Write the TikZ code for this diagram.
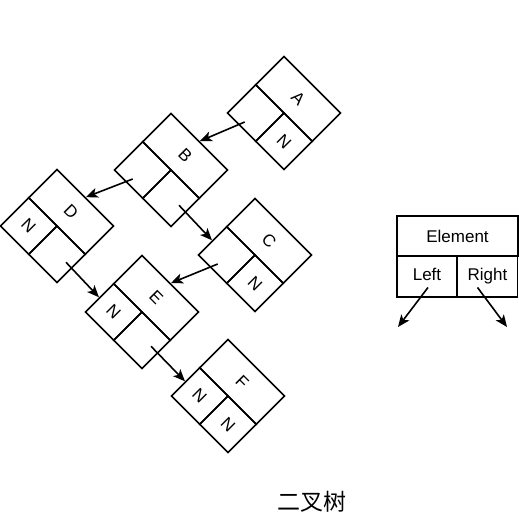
\documentclass[tikz,border=0pt]{standalone}
\usepackage{fontspec}
\setmainfont{Liberation Sans}
\newfontfamily\cjk{Noto Sans CJK SC}
\usetikzlibrary{arrows.meta}

\begin{document}
\begin{tikzpicture}[x=1pt,y=1pt,>={Stealth[length=12pt,width=10pt,inset=3pt]},line width=1.6pt,
	cell/.style={draw,minimum width=40pt,minimum height=40pt,inner sep=0pt,font=\fontsize{17}{20}\selectfont},
	elem/.style={cell,minimum width=80pt},
	legend/.style={cell,minimum width=60pt,minimum height=41pt,text height=12.2pt,text depth=3.6pt}]
\useasboundingbox (0,0) rectangle (519,518);

\foreach \n/\x/\y/\l/\r in {A/284/405//N, B/171/348//, C/255/263//N, D/57/292/N/, E/142/206/N/, F/228/122/N/N}
{
\begin{scope}[shift={(\x,\y)},rotate=-45,transform shape]
\node[elem]   (\n)      at (0,20)     {\n};
\node[cell]   (\n l)    at (-20,-20)  {\l};
\node[cell]   (\n r)    at (20,-20)   {\r};
\end{scope}
}

\node[legend,minimum width=121pt,minimum height=40pt,text depth=0pt] (elem)   at (457.5,282)   {Element};
\node[legend]                                         (left)   at (427,241.5)   {Left};
\node[legend]                                         (right)  at (487.5,241.5) {Right};
\coordinate (leftend)  at (398,191);
\coordinate (rightend) at (507,191);

\node[font=\cjk\fontsize{23}{26}\selectfont] (title) at (312,16) {二叉树};

	\path[->] ([shift={(-11,-9)}]Al.center)  edge  (B.north)
						([shift={(-10,-9)}]Bl.center)  edge  (D.north)
						([shift={(8,-7)}]Br.center)    edge  (Cl.west)
						([shift={(-9,-9)}]Cl.center)   edge  (E.north)
						([shift={(9,-8)}]Dr.center)    edge  (El.west)
						([shift={(9,-6)}]Er.center)    edge  (Fl.west)
						([shift={(1,-11)}]left.center)   edge  (leftend)
						([shift={(-10,-11)}]right.center) edge  (rightend);

\end{tikzpicture}
\end{document}
